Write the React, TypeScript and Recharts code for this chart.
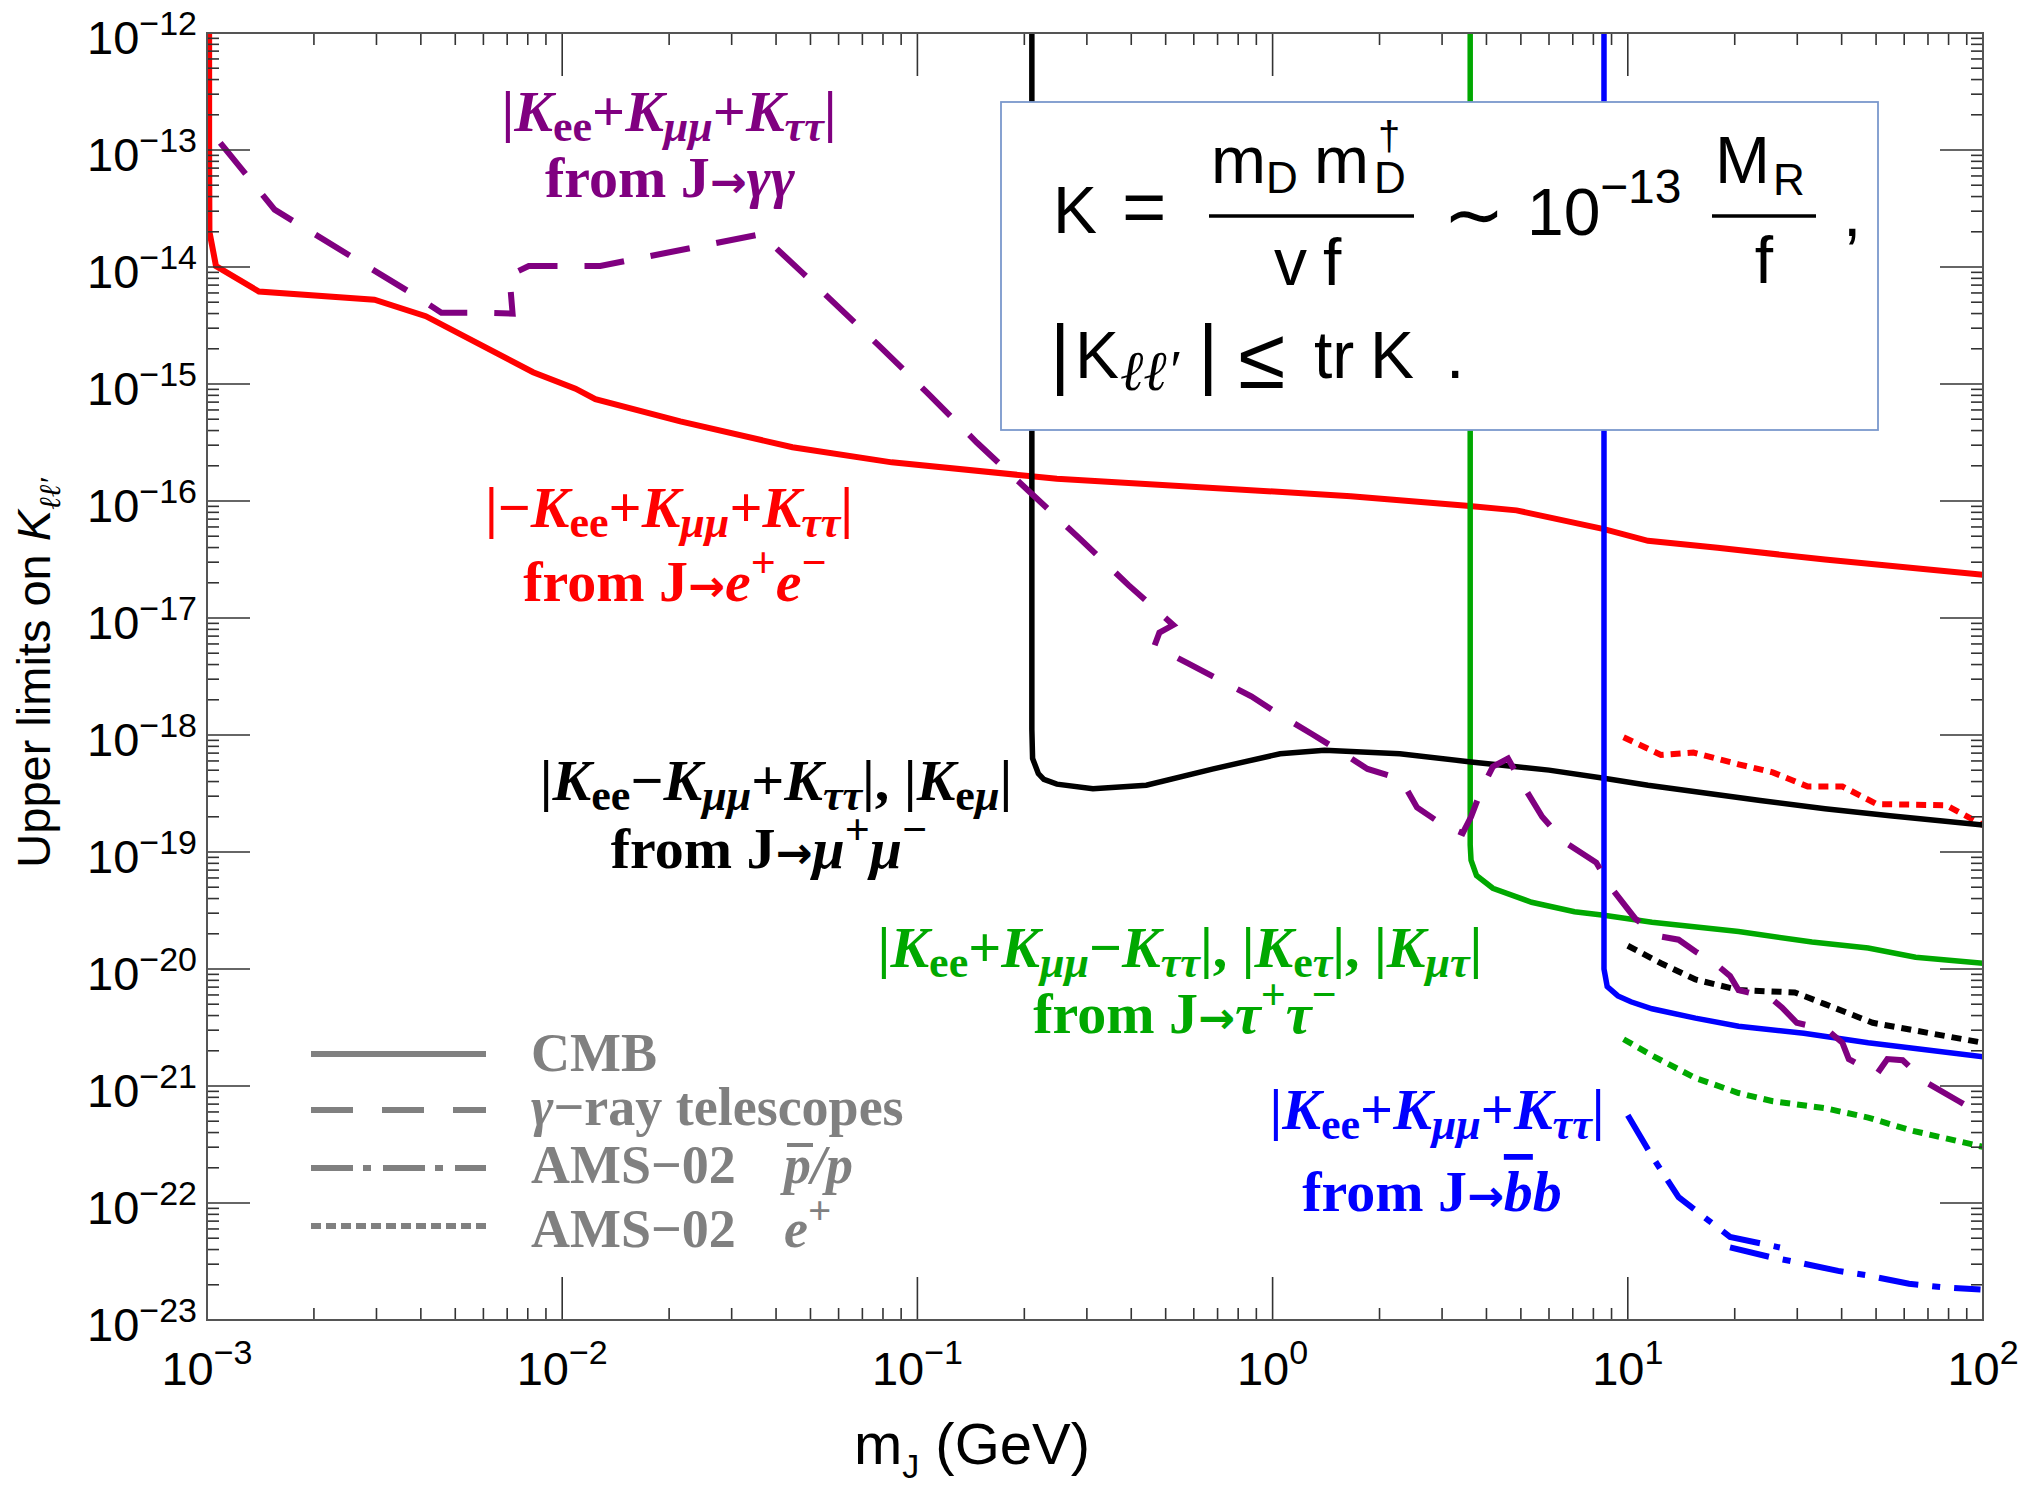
import React from 'react';
import { LineChart, Line, XAxis, YAxis } from 'recharts';

type Pt = [number, number | null];

// m_J (GeV), K upper limit
const eeCmb: Pt[] = [
  [1.014e-3, 1e-12], [1.014e-3, 1e-13], [1.016e-3, 2.0e-14], [1.06e-3, 1.02e-14], [1.4e-3, 6.17e-15],
  [2.96e-3, 5.25e-15], [4.13e-3, 3.8e-15], [8.28e-3, 1.26e-15], [1.09e-2, 9.12e-16], [1.24e-2, 7.41e-16],
  [2.15e-2, 4.79e-16], [4.45e-2, 2.88e-16], [8.47e-2, 2.14e-16], [0.247, 1.55e-16], [1.66, 1.1e-16],
  [3.52, 9.12e-17], [4.86, 8.32e-17], [8.57, 5.75e-17], [11.4, 4.57e-17], [17.9, 3.98e-17],
  [35.9, 3.16e-17], [100, 2.34e-17],
];

const eeAmsPositron: Pt[] = [
  [9.73, 9.55e-19], [12.4, 6.76e-19], [15.3, 7.08e-19], [20.5, 5.62e-19], [25.6, 4.79e-19],
  [32.1, 3.63e-19], [40.2, 3.63e-19], [50.2, 2.57e-19], [78.7, 2.51e-19], [100, 1.7e-19],
];

const tauCmb: Pt[] = [
  [3.6, 1e-12], [3.6, 1.15e-19], [3.62, 8.5e-20], [3.75, 6.3e-20], [4.17, 4.9e-20], [5.36, 3.72e-20],
  [7.08, 3.09e-20], [8.57, 2.88e-20], [11.7, 2.51e-20], [20.5, 2.09e-20], [33.0, 1.7e-20],
  [47.5, 1.51e-20], [64.6, 1.26e-20], [100, 1.12e-20],
];

const tauAmsPositron: Pt[] = [
  [9.73, 2.51e-21], [11.7, 1.82e-21], [15.5, 1.17e-21], [20.5, 8.71e-22], [25.6, 7.41e-22],
  [35.9, 6.46e-22], [47.5, 5.37e-22], [62.8, 4.17e-22], [100, 3.02e-22],
];

const muCmb: Pt[] = [
  [0.21, 1e-12], [0.21, 1.12e-18], [0.211, 6.31e-19], [0.219, 4.68e-19], [0.227, 4.17e-19],
  [0.247, 3.8e-19], [0.312, 3.47e-19], [0.441, 3.72e-19], [0.681, 5.13e-19], [1.05, 6.92e-19],
  [1.4, 7.41e-19], [2.28, 6.92e-19], [3.62, 5.89e-19], [6.0, 5.01e-19], [8.57, 4.27e-19],
  [11.4, 3.72e-19], [16.9, 3.16e-19], [23.6, 2.75e-19], [35.9, 2.34e-19], [54.7, 2.04e-19],
  [100, 1.7e-19],
];

const muAmsPositron: Pt[] = [
  [10, 1.58e-20], [12.4, 1.12e-20], [15.5, 8.13e-21], [20.5, 6.61e-21], [29.5, 6.31e-21],
  [35.9, 5.01e-21], [48.9, 3.47e-21], [62.8, 3.02e-21], [100, 2.34e-21],
];

const bbCmb: Pt[] = [
  [8.57, 1e-12], [8.57, 1.0e-20], [8.75, 7.08e-21], [9.38, 5.89e-21], [10.2, 5.25e-21],
  [11.7, 4.57e-21], [15.5, 3.8e-21], [20.5, 3.24e-21], [31.3, 2.82e-21], [47.5, 2.34e-21],
  [100, 1.78e-21],
];

// null breaks the curve where it doubles back
const bbAmsPbar: Pt[] = [
  [10, 5.62e-22], [11.7, 2.51e-22], [13.9, 1.12e-22], [16.9, 7.08e-23], [19.4, 5.13e-23],
  [26.8, 4.17e-23], [26.8, null], [19.4, 4.17e-23], [25.0, 3.47e-23], [30.3, 3.09e-23],
  [39.1, 2.63e-23], [47.5, 2.4e-23], [61.9, 2.04e-23], [76.4, 1.91e-23], [98.4, 1.82e-23],
];

const gammaGamma: Pt[] = [
  [1.09e-3, 1.15e-13], [1.55e-3, 3.09e-14], [3.79e-3, 5.89e-15], [4.57e-3, 4.07e-15], [5.85e-3, 4.07e-15],
  [7.25e-3, 4.0e-15], [7.1e-3, 8.5e-15], [8.05e-3, 1.02e-14], [1.28e-2, 1.02e-14], [3.63e-2, 1.91e-14],
  [4.75e-2, 8.91e-15], [7.78e-2, 2.14e-15], [0.107, 8.32e-16], [0.147, 3.16e-16], [0.205, 1.23e-16],
  [0.286, 4.79e-17], [0.393, 1.91e-17], [0.525, 8.71e-18], [0.48, 7.5e-18], [0.465, 5.8e-18],
  [0.58, 4.07e-18], [0.7, 3.02e-18], [0.871, 2.14e-18], [1.05, 1.48e-18], [1.29, 1.02e-18],
  [1.53, 7.41e-19], [1.85, 5.13e-19], [2.25, 4.27e-19], [2.34, 3.8e-19], [2.55, 2.4e-19],
  [3.02, 1.7e-19], [3.43, 1.45e-19], [3.62, 2.0e-19], [3.88, 3.47e-19], [4.17, 5.37e-19],
  [4.6, 6.3e-19], [5.07, 3.72e-19], [5.74, 2.0e-19], [6.61, 1.23e-19], [8.15, 8.13e-20],
  [9.0, 4.9e-20], [10.5, 2.69e-20], [12.2, 1.91e-20], [13.9, 1.78e-20], [15.5, 1.41e-20],
  [17.6, 1.12e-20], [19.4, 8.71e-21], [20.5, 6.61e-21], [25.3, 5.62e-21], [27.2, 4.68e-21],
  [29.9, 3.47e-21], [36.4, 3.02e-21], [40.2, 2.34e-21], [41.9, 1.7e-21], [50.2, 1.26e-21],
  [53.8, 1.7e-21], [59.4, 1.66e-21], [69.3, 1.07e-21], [85.5, 7.41e-22], [100, 5.6e-22],
];

const xMajor = [1e-3, 1e-2, 1e-1, 1, 10, 100];
const xExp = ['−3', '−2', '−1', '0', '1', '2'];
const yMajor = [1e-12, 1e-13, 1e-14, 1e-15, 1e-16, 1e-17, 1e-18, 1e-19, 1e-20, 1e-21, 1e-22, 1e-23];
const yExp = ['−12', '−13', '−14', '−15', '−16', '−17', '−18', '−19', '−20', '−21', '−22', '−23'];
const minorMult = [2, 3, 4, 5, 6, 7, 8, 9];

const W = 2026;
const H = 1486;
const PL = 207;
const PR = 1983;
const PT = 33;
const PB = 1320;

const SERIF = '"Liberation Serif", "Times New Roman", serif';
const SANS = '"Liberation Sans", Arial, Helvetica, sans-serif';
const ARROW = '"DejaVu Sans", sans-serif';
const TICK = '#333';

const PURPLE = '#800080';
const RED = '#ff0000';
const GREEN = '#00a800';
const BLUE = '#0000ff';
const GRAY = '#808080';

const toRows = (pts: Pt[]) => pts.map(([m, K]) => ({ m, K }));

const withMinors = (major: number[]) => {
  const out: number[] = [];
  major.forEach((v, i) => {
    out.push(v);
    if (i < major.length - 1) {
      const lo = Math.min(v, major[i + 1]);
      minorMult.forEach((k) => out.push(lo * k));
    }
  });
  return out.sort((a, b) => a - b);
};

const xTicks = withMinors(xMajor);
const yTicks = withMinors(yMajor.slice().reverse());

const majorIndex = (list: number[], v: number) =>
  list.findIndex((t) => Math.abs(Math.log10(t) - Math.log10(v)) < 1e-6);

function XTick(props: any) {
  const { x, payload } = props;
  const idx = majorIndex(xMajor, payload.value);
  const len = idx >= 0 ? 43 : 12;
  return (
    <g>
      <line x1={x} x2={x} y1={PB} y2={PB - len} stroke={TICK} strokeWidth={1.6} />
      <line x1={x} x2={x} y1={PT} y2={PT + len} stroke={TICK} strokeWidth={1.6} />
      {idx >= 0 && (
        <text x={x} y={1385} textAnchor="middle" fontFamily={SANS} fontSize={47} fill="#000">
          10<tspan dy={-21} fontSize={34}>{xExp[idx]}</tspan>
        </text>
      )}
    </g>
  );
}

function YTick(props: any) {
  const { y, payload } = props;
  const idx = majorIndex(yMajor, payload.value);
  const len = idx >= 0 ? 43 : 12;
  return (
    <g>
      <line x1={PL} x2={PL + len} y1={y} y2={y} stroke={TICK} strokeWidth={1.6} />
      <line x1={PR} x2={PR - len} y1={y} y2={y} stroke={TICK} strokeWidth={1.6} />
      {idx >= 0 && (
        <text x={197} y={y + 21} textAnchor="end" fontFamily={SANS} fontSize={47} fill="#000">
          10<tspan dy={-19} fontSize={34}>{yExp[idx]}</tspan>
        </text>
      )}
    </g>
  );
}

type Seg = { t: string; i?: boolean; s?: 'sub' | 'sup'; o?: boolean; f?: string; z?: number };

function Rich({ x, y, segs, size, fill, anchor = 'middle' }: {
  x: number; y: number; segs: Seg[]; size: number; fill: string; anchor?: string;
}) {
  let cur = 0;
  return (
    <text x={x} y={y} textAnchor={anchor} fontFamily={SERIF} fontWeight="bold" fontSize={size} fill={fill}>
      {segs.map((g, k) => {
        const target = g.s === 'sub' ? size * 0.17 : g.s === 'sup' ? -size * 0.42 : 0;
        const dy = target - cur;
        cur = target;
        return (
          <tspan
            key={k}
            dy={dy}
            fontSize={g.z ?? (g.s ? size * 0.76 : size)}
            fontFamily={g.f}
            fontStyle={g.i ? 'italic' : 'normal'}
            textDecoration={g.o ? 'overline' : undefined}
          >
            {g.t}
          </tspan>
        );
      })}
    </text>
  );
}

const K = (sub: Seg[]): Seg[] => [{ t: 'K', i: true }, ...sub.map((s) => ({ ...s, s: 'sub' as const }))];
const FROM = (): Seg[] => [{ t: 'from J' }, { t: '→', f: ARROW, z: 44 }];

function Overlay() {
  const sz = 58;
  return (
    <svg width={W} height={H} style={{ position: 'absolute', left: 0, top: 0, pointerEvents: 'none' }}>
      <rect x={PL} y={PT} width={PR - PL} height={PB - PT} fill="none" stroke="#555" strokeWidth={2} />

      {/* gamma gamma */}
      <Rich x={669} y={131} size={sz} fill={PURPLE} segs={[
        { t: '|' }, ...K([{ t: 'ee' }]), { t: '+' }, ...K([{ t: 'μμ', i: true }]), { t: '+' }, ...K([{ t: 'ττ', i: true }]), { t: '|' },
      ]} />
      <Rich x={670} y={197} size={sz} fill={PURPLE} segs={[...FROM(), { t: 'γγ', i: true }]} />

      {/* e+ e- */}
      <Rich x={669} y={527} size={sz} fill={RED} segs={[
        { t: '|−' }, ...K([{ t: 'ee' }]), { t: '+' }, ...K([{ t: 'μμ', i: true }]), { t: '+' }, ...K([{ t: 'ττ', i: true }]), { t: '|' },
      ]} />
      <Rich x={675} y={601} size={sz} fill={RED} segs={[
        ...FROM(), { t: 'e', i: true }, { t: '+', s: 'sup' }, { t: 'e', i: true }, { t: '−', s: 'sup' },
      ]} />

      {/* mu+ mu- */}
      <Rich x={776} y={800} size={sz} fill="#000" segs={[
        { t: '|' }, ...K([{ t: 'ee' }]), { t: '−' }, ...K([{ t: 'μμ', i: true }]), { t: '+' }, ...K([{ t: 'ττ', i: true }]),
        { t: '|, |' }, ...K([{ t: 'e' }, { t: 'μ', i: true }]), { t: '|' },
      ]} />
      <Rich x={769} y={868} size={sz} fill="#000" segs={[
        ...FROM(), { t: 'μ', i: true }, { t: '+', s: 'sup' }, { t: 'μ', i: true }, { t: '−', s: 'sup' },
      ]} />

      {/* tau+ tau- */}
      <Rich x={1180} y={967} size={sz} fill={GREEN} segs={[
        { t: '|' }, ...K([{ t: 'ee' }]), { t: '+' }, ...K([{ t: 'μμ', i: true }]), { t: '−' }, ...K([{ t: 'ττ', i: true }]),
        { t: '|, |' }, ...K([{ t: 'e' }, { t: 'τ', i: true }]), { t: '|, |' }, ...K([{ t: 'μτ', i: true }]), { t: '|' },
      ]} />
      <Rich x={1185} y={1033} size={sz} fill={GREEN} segs={[
        ...FROM(), { t: 'τ', i: true }, { t: '+', s: 'sup' }, { t: 'τ', i: true }, { t: '−', s: 'sup' },
      ]} />

      {/* b bbar */}
      <Rich x={1437} y={1129} size={sz} fill={BLUE} segs={[
        { t: '|' }, ...K([{ t: 'ee' }]), { t: '+' }, ...K([{ t: 'μμ', i: true }]), { t: '+' }, ...K([{ t: 'ττ', i: true }]), { t: '|' },
      ]} />
      <Rich x={1432} y={1211} size={sz} fill={BLUE} segs={[
        ...FROM(), { t: 'b', i: true, o: true }, { t: 'b', i: true },
      ]} />

      {/* legend */}
      <line x1={311} x2={486} y1={1054} y2={1054} stroke={GRAY} strokeWidth={6} />
      <line x1={311} x2={486} y1={1110} y2={1110} stroke={GRAY} strokeWidth={6} strokeDasharray="42 29" />
      <line x1={311} x2={486} y1={1168} y2={1168} stroke={GRAY} strokeWidth={6} strokeDasharray="42 10 8 12" />
      <line x1={311} x2={486} y1={1226} y2={1226} stroke={GRAY} strokeWidth={6} strokeDasharray="10 5" />
      <Rich x={531} y={1071} size={54} fill={GRAY} anchor="start" segs={[{ t: 'CMB' }]} />
      <Rich x={531} y={1125} size={54} fill={GRAY} anchor="start" segs={[{ t: 'γ', i: true }, { t: '−ray telescopes' }]} />
      <Rich x={531} y={1183} size={54} fill={GRAY} anchor="start" segs={[{ t: 'AMS−02' }]} />
      <Rich x={784} y={1183} size={54} fill={GRAY} anchor="start" segs={[{ t: 'p/p', i: true }]} />
      <line x1={787} x2={813} y1={1145} y2={1145} stroke={GRAY} strokeWidth={4} />
      <Rich x={531} y={1247} size={54} fill={GRAY} anchor="start" segs={[{ t: 'AMS−02' }]} />
      <Rich x={784} y={1247} size={54} fill={GRAY} anchor="start" segs={[{ t: 'e', i: true }, { t: '+', s: 'sup' }]} />

      {/* formula box */}
      <rect x={1001} y={102} width={877} height={328} fill="#fff" stroke="#7a98cc" strokeWidth={1.8} />
      <g fontFamily={SANS} fill="#000">
        <text x={1053} y={233} fontSize={66}>K</text>
        <text x={1122} y={233} fontSize={76}>=</text>
        <line x1={1209} x2={1414} y1={216} y2={216} stroke="#000" strokeWidth={3.5} />
        <text x={1211} y={183} fontSize={66}>
          m<tspan fontSize={44} dy={10}>D</tspan>
          <tspan x={1314} dy={-10}>m</tspan>
          <tspan x={1374} fontSize={44} dy={10}>D</tspan>
        </text>
        <text x={1378} y={150} fontSize={40}>†</text>
        <text x={1274} y={285} fontSize={66}>v</text>
        <text x={1323} y={285} fontSize={66}>f</text>
        <text x={1443} y={240} fontSize={74} fontFamily='"DejaVu Sans", sans-serif'>∼</text>
        <text x={1527} y={235} fontSize={66}>10</text>
        <text x={1600} y={203} fontSize={48}>−13</text>
        <text x={1715} y={183} fontSize={66}>M</text>
        <text x={1773} y={195} fontSize={44}>R</text>
        <line x1={1712} x2={1816} y1={216} y2={216} stroke="#000" strokeWidth={3.5} />
        <text x={1764} y={283} fontSize={66} textAnchor="middle">f</text>
        <text x={1843} y={236} fontSize={66}>,</text>

        <text x={1050} y={380} fontSize={78}>|</text>
        <text x={1075} y={378} fontSize={66}>K</text>
        <text x={1120} y={390} fontSize={56} fontFamily={SERIF} fontStyle="italic">ℓℓ′</text>
        <text x={1198} y={380} fontSize={78}>|</text>
        <text x={1238} y={388} fontSize={86}>≤</text>
        <text x={1314} y={378} fontSize={66}>tr</text>
        <text x={1370} y={378} fontSize={66}>K</text>
        <text x={1446} y={378} fontSize={66}>.</text>
      </g>

      {/* axis titles */}
      <text x={972} y={1464} textAnchor="middle" fontFamily={SANS} fontSize={58} fill="#000">
        m<tspan fontSize={34} dy={14}>J</tspan><tspan dy={-14}> (GeV)</tspan>
      </text>
      <text transform="translate(50,673) rotate(-90)" textAnchor="middle" fontFamily={SANS} fontSize={47} fill="#000">
        Upper limits on <tspan fontStyle="italic">K</tspan>
        <tspan fontSize={30} dy={10} fontFamily={SERIF} fontStyle="italic">ℓℓ′</tspan>
      </text>
    </svg>
  );
}

const series = [
  { id: 'eeCmb', pts: eeCmb, color: RED, width: 6, dash: undefined },
  { id: 'eeAms', pts: eeAmsPositron, color: RED, width: 6, dash: '10 7' },
  { id: 'tauCmb', pts: tauCmb, color: GREEN, width: 5.5, dash: undefined },
  { id: 'tauAms', pts: tauAmsPositron, color: GREEN, width: 6, dash: '10 7' },
  { id: 'muCmb', pts: muCmb, color: '#000', width: 5.5, dash: undefined },
  { id: 'muAms', pts: muAmsPositron, color: '#000', width: 6, dash: '10 7' },
  { id: 'bbCmb', pts: bbCmb, color: BLUE, width: 5.5, dash: undefined },
  { id: 'bbPbar', pts: bbAmsPbar, color: BLUE, width: 6, dash: '40 14 8 14' },
  { id: 'gg', pts: gammaGamma, color: PURPLE, width: 6, dash: '40 27' },
];

export default function App() {
  return (
    <div style={{ position: 'absolute', left: 0, top: 0, width: W, height: H, background: '#fff' }}>
      <LineChart width={W} height={H} margin={{ top: PT, left: PL - 1, right: W - PR, bottom: H - PB - 1 }}>
        <XAxis
          dataKey="m"
          type="number"
          scale="log"
          domain={[1e-3, 100]}
          ticks={xTicks}
          interval={0}
          allowDataOverflow
          axisLine={false}
          tickLine={false}
          tickSize={0}
          height={1}
          tick={(p: any) => <XTick {...p} />}
        />
        <YAxis
          type="number"
          scale="log"
          domain={[1e-23, 1e-12]}
          ticks={yTicks}
          interval={0}
          allowDataOverflow
          axisLine={false}
          tickLine={false}
          tickSize={0}
          width={1}
          tick={(p: any) => <YTick {...p} />}
        />
        {series.map((s) => (
          <Line
            key={s.id}
            data={toRows(s.pts)}
            dataKey="K"
            type="linear"
            stroke={s.color}
            strokeWidth={s.width}
            strokeDasharray={s.dash}
            dot={false}
            activeDot={false}
            connectNulls={false}
            isAnimationActive={false}
          />
        ))}
      </LineChart>
      <Overlay />
    </div>
  );
}
